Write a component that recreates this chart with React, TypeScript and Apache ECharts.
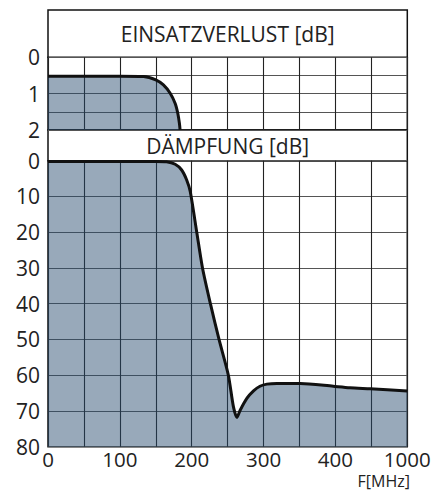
import React, { useEffect, useRef } from 'react';
import * as echarts from 'echarts';

// X tick labels (MHz) at equally spaced positions: 0..400 linear, last step 400 -> 1000
const xTickLabels = ['0', '100', '200', '300', '400', '1000'];
const topTickLabels = [0, 1, 2];
const bottomTickLabels = [0, 10, 20, 30, 40, 50, 60, 70, 80];

// Insertion loss (EINSATZVERLUST) [dB] vs frequency [MHz]
const insertionFreq = [0, 50, 100, 133, 150, 160.6, 170, 177, 180.6, 182.9, 183.8];
const insertionLoss = [0.52, 0.52, 0.52, 0.53, 0.62, 0.76, 0.99, 1.27, 1.54, 1.82, 2.0];

// Attenuation (DÄMPFUNG) [dB] vs frequency [MHz]
const attenFreq = [0, 50, 100, 150, 165, 177, 186, 193, 198, 207, 215, 226, 238, 251, 258, 263, 267.4, 276.7, 286, 295, 304.6, 318.5, 351, 397, 520, 691, 1000];
const attenuation = [0.2, 0.2, 0.2, 0.2, 0.3, 1.0, 2.6, 5.4, 8.7, 20, 30, 40, 50, 60, 68.8, 71.8, 69.8, 66.5, 64.4, 63.1, 62.5, 62.3, 62.3, 63.1, 63.5, 63.8, 64.4];

const FONT = '"Open Sans", "Noto Sans", sans-serif';

// Position on the (piecewise) frequency axis: 0..400 linear, 400..1000 compressed into one step
function toAxis(f: number): number {
  return f <= 400 ? f : 400 + (f - 400) / 6;
}

const L = 48;
const W = 359.3;

export default function App() {
  const ref = useRef<HTMLDivElement>(null);
  useEffect(() => {
    if (!ref.current) return;
    const chart = echarts.init(ref.current, undefined, { renderer: 'svg' });
    const fill = 'rgba(40,75,110,0.48)';
    const vSplit = { show: true, lineStyle: { color: '#222', width: 1.1 } };
    const hSplit = { show: true, lineStyle: { color: '#555', width: 1.1 } };
    const option: any = {
      animation: false,
      backgroundColor: '#ffffff',
      textStyle: { fontFamily: FONT },
      grid: [
        { left: L, top: 57.3, width: W, height: 72.7, show: true, borderColor: '#111', borderWidth: 1.5, backgroundColor: 'transparent' },
        { left: L, top: 160.7, width: W, height: 286, show: true, borderColor: '#111', borderWidth: 1.5, backgroundColor: 'transparent' },
      ],
      xAxis: [
        {
          type: 'value', gridIndex: 0, min: 0, max: 500, interval: 50,
          axisLine: { show: false }, axisTick: { show: false }, axisLabel: { show: false },
          splitLine: vSplit,
        },
        {
          type: 'value', gridIndex: 1, min: 0, max: 500, interval: 50,
          axisLine: { show: false }, axisTick: { show: false },
          axisLabel: {
            show: true, showMinLabel: true, showMaxLabel: true,
            fontSize: 20.5, color: '#222', margin: 2, fontFamily: FONT,
            formatter: (v: number) => (Math.round(v) % 100 === 0 ? xTickLabels[Math.round(v) / 100] : ''),
          },
          splitLine: vSplit,
        },
      ],
      yAxis: [
        {
          type: 'value', gridIndex: 0, inverse: true, min: 0, max: 2, interval: 0.5,
          axisLine: { show: false }, axisTick: { show: false },
          axisLabel: {
            fontSize: 21, color: '#222', margin: 8, fontFamily: FONT,
            formatter: (v: number) => (topTickLabels.indexOf(v) >= 0 ? String(v) : ''),
          },
          splitLine: hSplit,
        },
        {
          type: 'value', gridIndex: 1, inverse: true, min: 0, max: 80, interval: 10,
          axisLine: { show: false }, axisTick: { show: false },
          axisLabel: {
            fontSize: 21, color: '#222', margin: 8, fontFamily: FONT,
            formatter: (v: number) => (bottomTickLabels.indexOf(v) >= 0 ? String(v) : ''),
          },
          splitLine: hSplit,
        },
      ],
      series: [
        {
          type: 'line', xAxisIndex: 0, yAxisIndex: 0,
          data: insertionFreq.map((f, i) => [toAxis(f), insertionLoss[i]]),
          showSymbol: false, smooth: 0.3,
          lineStyle: { color: '#111', width: 3 },
          areaStyle: { color: fill, origin: 'end', opacity: 1 },
        },
        {
          type: 'line', xAxisIndex: 1, yAxisIndex: 1,
          data: attenFreq.map((f, i) => [toAxis(f), attenuation[i]]),
          showSymbol: false, smooth: 0.25,
          lineStyle: { color: '#111', width: 3 },
          areaStyle: { color: fill, origin: 'end', opacity: 1 },
        },
      ],
      graphic: [
        {
          type: 'rect', shape: { x: L, y: 10, width: W, height: 47.3 },
          style: { fill: '#fff', stroke: '#111', lineWidth: 1.5 },
        },
        {
          type: 'text', x: L + W / 2, y: 34,
          style: { text: 'EINSATZVERLUST [dB]', fontSize: 21, fontFamily: FONT, fill: '#222', align: 'center', verticalAlign: 'middle' },
        },
        {
          type: 'rect', shape: { x: L, y: 130, width: W, height: 30.7 },
          style: { fill: '#fff', stroke: '#111', lineWidth: 1.5 },
        },
        {
          type: 'text', x: L + W / 2, y: 146,
          style: { text: 'DÄMPFUNG [dB]', fontSize: 21, fontFamily: FONT, fill: '#222', align: 'center', verticalAlign: 'middle' },
        },
        {
          type: 'text', x: 410, y: 481,
          style: { text: 'F[MHz]', fontSize: 16, fontFamily: FONT, fill: '#222', align: 'right', verticalAlign: 'middle' },
        },
      ],
    };
    chart.setOption(option);
    return () => chart.dispose();
  }, []);
  return <div ref={ref} style={{ position: 'absolute', left: 0, top: 0, width: 435, height: 495 }} />;
}
